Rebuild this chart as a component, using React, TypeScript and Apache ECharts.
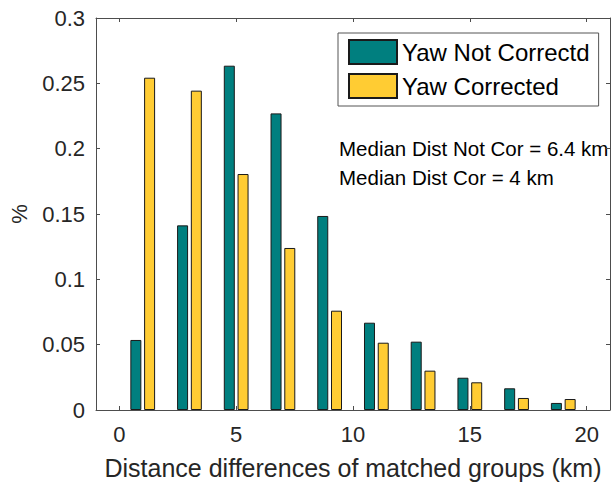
import { useEffect, useRef } from "react";
import * as echarts from "echarts";

// Histogram bin centres (km) and the share of matched groups in each bin
const binCenters = [1, 3, 5, 7, 9, 11, 13, 15, 17, 19];
const notCorrected = [0.0536, 0.1413, 0.2635, 0.227, 0.1485, 0.0668, 0.0523, 0.0247, 0.0166, 0.0054];
const corrected = [0.2543, 0.2444, 0.1806, 0.124, 0.076, 0.0515, 0.0301, 0.0212, 0.0092, 0.0084];
const xTickValues = [0, 5, 10, 15, 20];
const seriesNames = ["Yaw Not Correctd", "Yaw Corrected"];
const medianLines = ["Median Dist Not Cor = 6.4 km", "Median Dist Cor = 4 km"];

const FONT = "'Liberation Sans', Arial, Helvetica, sans-serif";
const AXIS_COLOR = "#4d4d4d";
const TEXT_COLOR = "#262626";
const TEAL = "#007f7f";
const YELLOW = "#ffcc33";

export default function App() {
  const ref = useRef<HTMLDivElement>(null);

  useEffect(() => {
    const chart = echarts.init(ref.current!, null, { renderer: "svg" });
    // box outline: every axis line stays on its own edge of the grid
    const axisLine = { show: true, onZero: false, lineStyle: { color: AXIS_COLOR, width: 1 } };
    const axisTick = {
      show: true,
      inside: true,
      length: 4,
      lineStyle: { color: AXIS_COLOR },
    };
    const xCommon = {
      type: "value" as const,
      min: -1,
      max: 21,
      minInterval: 5,
      maxInterval: 5,
      splitLine: { show: false },
      axisLine,
      axisTick,
    };
    const yCommon = {
      type: "value" as const,
      min: 0,
      max: 0.3,
      interval: 0.05,
      splitLine: { show: false },
      axisLine,
      axisTick,
    };

    chart.setOption({
      animation: false,
      backgroundColor: "#ffffff",
      textStyle: { fontFamily: FONT },
      grid: { left: 94, right: 1, top: 18, bottom: 75, containLabel: false },
      xAxis: [
        {
          ...xCommon,
          position: "bottom",
          name: "Distance differences of matched groups (km)",
          nameLocation: "middle",
          nameGap: 45,
          nameTextStyle: { fontSize: 25, color: TEXT_COLOR, fontFamily: FONT },
          axisLabel: {
            show: true,
            margin: 13,
            fontSize: 22,
            color: TEXT_COLOR,
            fontFamily: FONT,
            showMinLabel: false,
            showMaxLabel: false,
            formatter: (v: number) => (xTickValues.includes(v) ? String(v) : ""),
          },
        },
        {
          ...xCommon,
          position: "top",
          axisLabel: { show: false },
        },
      ],
      yAxis: [
        {
          ...yCommon,
          position: "left",
          name: "%",
          nameLocation: "middle",
          nameGap: 66,
          nameTextStyle: { fontSize: 22, color: TEXT_COLOR, fontFamily: FONT },
          axisLabel: {
            show: true,
            margin: 11,
            fontSize: 22,
            color: TEXT_COLOR,
            fontFamily: FONT,
          },
        },
        {
          ...yCommon,
          position: "right",
          axisLabel: { show: false },
        },
      ],
      legend: {
        show: true,
        orient: "vertical",
        left: 338,
        top: 33,
        padding: [6, 9, 7, 10],
        itemGap: 8,
        itemWidth: 48,
        itemHeight: 24,
        icon: "rect",
        borderColor: "#555555",
        borderWidth: 1,
        backgroundColor: "#ffffff",
        textStyle: { fontSize: 24, color: "#000000", fontFamily: FONT },
        data: seriesNames,
      },
      graphic: medianLines.map((line, i) => ({
        type: "text",
        left: 339,
        top: 138 + i * 28.5,
        style: { text: line, font: `20.5px ${FONT}`, fill: "#000000" },
      })),
      series: [
        {
          name: seriesNames[0],
          type: "bar",
          barWidth: 11,
          barGap: "25%",
          data: binCenters.map((c, i) => [c, notCorrected[i]]),
          itemStyle: { color: TEAL, borderColor: "#1a1a1a", borderWidth: 1 },
        },
        {
          name: seriesNames[1],
          type: "bar",
          barWidth: 11,
          barGap: "25%",
          data: binCenters.map((c, i) => [c, corrected[i]]),
          itemStyle: { color: YELLOW, borderColor: "#1a1a1a", borderWidth: 1 },
        },
      ],
    });
    return () => chart.dispose();
  }, []);

  return (
    <div
      ref={ref}
      style={{ position: "fixed", left: 0, top: 0, width: 611, height: 485 }}
    />
  );
}
